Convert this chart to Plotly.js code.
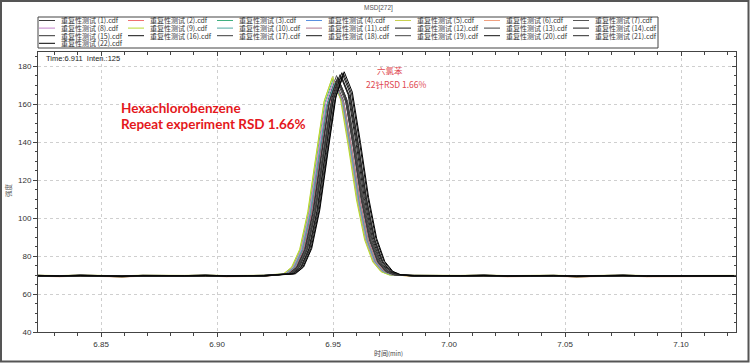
<!DOCTYPE html>
<html>
<head>
<meta charset="utf-8">
<script src="https://cdn.plot.ly/plotly-3.0.1.min.js"></script>
<style>html,body{margin:0;padding:0;background:#fff;}#chart{width:750px;height:363px;}</style>
</head>
<body>
<div id="chart"></div>
<script>
// ---------- DATA ----------
const seriesNames = ['重复性测试 (1).cdf','重复性测试 (2).cdf','重复性测试 (3).cdf','重复性测试 (4).cdf','重复性测试 (5).cdf','重复性测试 (6).cdf','重复性测试 (7).cdf',
  '重复性测试 (8).cdf','重复性测试 (9).cdf','重复性测试 (10).cdf','重复性测试 (11).cdf','重复性测试 (12).cdf','重复性测试 (13).cdf','重复性测试 (14).cdf',
  '重复性测试 (15).cdf','重复性测试 (16).cdf','重复性测试 (17).cdf','重复性测试 (18).cdf','重复性测试 (19).cdf','重复性测试 (20).cdf','重复性测试 (21).cdf',
  '重复性测试 (22).cdf'];
const seriesColors = ['#3a3a3a','#f07070','#40b080','#5a90e0','#c8d050','#f0a080','#555555',
  '#c080c8','#b8d830','#50a8a0','#b07890','#1a1a1a','#404040','#1a1a1a',
  '#333333','#111111','#3c3c3c','#1a1a1a','#444444','#111111','#2a2a2a','#000000'];

// retention time (min) of each run's apex
const apexTime = [6.9510,6.9505,6.9500,6.9508,6.9498,6.9512,6.9515,6.9503,6.9496,6.9507,6.9513,
  6.9520,6.9525,6.9530,6.9518,6.9538,6.9528,6.9535,6.9522,6.9545,6.9540,6.9548];
// time offsets of the sampled points across the peak, relative to the apex
const peakOffset = [-0.021,-0.0175,-0.014,-0.0105,-0.007,-0.0035,0,0.0035,0.007,0.0105,0.014,0.0175,0.021,0.0245];
// intensities across the peak for each run
const peakValues = [
  [70.6,74.0,83.3,102.8,131.7,159.9,172.0,161.8,136.5,109.0,88.3,76.8,71.8,70.1],
  [70.6,73.9,83.1,102.3,130.8,158.6,170.5,160.4,135.6,108.4,88.0,76.7,71.7,70.1],
  [70.6,74.1,83.5,103.1,132.3,160.8,173.0,162.7,137.2,109.3,88.4,76.8,71.8,70.1],
  [70.6,74.0,83.3,102.7,131.4,159.5,171.5,161.3,136.2,108.8,88.2,76.7,71.7,70.1],
  [70.7,74.1,83.7,103.6,133.2,162.1,174.5,164.0,138.2,109.9,88.7,77.0,71.8,70.1],
  [70.6,73.9,83.0,102.0,130.2,157.7,169.5,159.5,134.9,108.0,87.8,76.6,71.7,70.1],
  [70.7,74.1,83.7,103.8,133.5,162.6,175.0,164.5,138.5,110.1,88.8,77.0,71.8,70.1],
  [70.6,74.0,83.4,103.0,132.0,160.3,172.5,162.2,136.9,109.2,88.3,76.8,71.8,70.1],
  [70.6,74.1,83.5,103.3,132.6,161.2,173.5,163.1,137.5,109.5,88.5,76.9,71.8,70.1],
  [70.6,74.0,83.2,102.5,131.1,159.0,171.0,160.9,135.9,108.6,88.1,76.7,71.7,70.1],
  [70.6,73.9,83.1,102.2,130.5,158.1,170.0,160.0,135.2,108.2,87.9,76.6,71.7,70.1],
  [70.6,74.1,83.6,103.5,132.9,161.7,174.0,163.6,137.8,109.7,88.6,76.9,71.8,70.1],
  [70.6,74.0,83.3,102.8,131.7,159.9,172.0,161.8,136.5,109.0,88.3,76.8,71.8,70.1],
  [70.7,74.2,83.8,104.0,133.8,163.0,175.5,164.9,138.8,110.3,88.9,77.0,71.8,70.1],
  [70.6,74.1,83.5,103.1,132.3,160.8,173.0,162.7,137.2,109.3,88.4,76.8,71.8,70.1],
  [70.7,74.2,83.9,104.3,134.4,163.9,176.5,165.8,139.5,110.7,89.1,77.1,71.9,70.1],
  [70.6,74.0,83.3,102.7,131.4,159.5,171.5,161.3,136.2,108.8,88.2,76.7,71.7,70.1],
  [70.7,74.1,83.7,103.6,133.2,162.1,174.5,164.0,138.2,109.9,88.7,77.0,71.8,70.1],
  [70.6,73.9,83.1,102.3,130.8,158.6,170.5,160.4,135.6,108.4,88.0,76.7,71.7,70.1],
  [70.7,74.2,83.9,104.1,134.1,163.4,176.0,165.4,139.2,110.5,89.0,77.1,71.8,70.1],
  [70.6,74.1,83.5,103.3,132.6,161.2,173.5,163.1,137.5,109.5,88.5,76.9,71.8,70.1],
  [70.7,74.2,84.0,104.4,134.8,164.3,177.0,166.3,139.8,110.9,89.2,77.1,71.9,70.1]
];
// baseline before and after the peak
const preTime  = [6.8228,6.832,6.841,6.850,6.859,6.868,6.877,6.886,6.895,6.904,6.913,6.920];
const preValue = [69.6,69.4,69.7,69.5,69.3,69.6,69.4,69.5,69.7,69.4,69.5,69.6];
const postTime  = [6.985,6.995,7.005,7.015,7.025,7.035,7.045,7.055,7.065,7.075,7.085,7.095,7.105,7.115,7.1237];
const postValue = [69.6,69.4,69.5,69.7,69.4,69.5,69.6,69.3,69.5,69.7,69.4,69.5,69.6,69.4,69.5];
const baseShift = [0.1,-0.2,0.2,-0.1,0.3,-0.3,0.0,0.2,-0.2,0.1,-0.1,0.0,0.1,-0.1,0.2,-0.2,0.0,0.1,-0.1,0.2,-0.2,0.0];

const xRange = [6.8228, 7.1237];
const yRange = [40, 187.4];
const titleText = 'MSD[272]';
const cursorText = 'Time:6.911  Inten.:125';
const noteLines = ['Hexachlorobenzene','Repeat experiment RSD 1.66%'];
const labelLines = ['六氯苯','22针RSD 1.66%'];
const xTitle = '时间<span style="font-size:6px">(min)</span>';
const yTitle = '强度';

// ---------- BUILD ----------
const L = 38, T = 52, W = 698, H = 280;
const px = x => (x - L) / W;
const py = y => (T + H - y) / H;

const traces = seriesNames.map((name, i) => {
  const x = preTime.concat(peakOffset.map(o => +(apexTime[i] + o).toFixed(5)), postTime);
  const y = preValue.map(v => v + baseShift[i]).concat(peakValues[i], postValue.map(v => v + baseShift[i]));
  return {type: 'scatter', mode: 'lines', name, x, y,
    line: {color: seriesColors[i], width: 1}, hoverinfo: 'skip', showlegend: false};
});
traces.push({type: 'scatter', mode: 'lines', x: [], y: [], xaxis: 'x2', yaxis: 'y2', hoverinfo: 'skip', showlegend: false});

const shapes = [];
const annotations = [];
// legend box
shapes.push({type: 'rect', xref: 'paper', yref: 'paper', x0: px(38), x1: px(658), y0: py(17), y1: py(48),
  line: {color: '#444', width: 1}, fillcolor: 'rgba(0,0,0,0)', layer: 'above'});
const colStep = 89, rowStep = 7.6;
seriesNames.forEach((name, i) => {
  const c = i % 7, r = Math.floor(i / 7);
  const tx = 60 + c * colStep, ty = 20.5 + r * rowStep;
  shapes.push({type: 'line', xref: 'paper', yref: 'paper', x0: px(tx - 21), x1: px(tx - 5), y0: py(ty), y1: py(ty),
    line: {color: seriesColors[i], width: 1}});
  annotations.push({xref: 'paper', yref: 'paper', x: px(tx), y: py(ty), xanchor: 'left', yanchor: 'middle',
    text: name, showarrow: false, borderpad: 0, font: {family: 'Noto Sans CJK SC', size: 7, color: '#333'}});
});
// outer frame
shapes.push({type: 'rect', xref: 'paper', yref: 'paper', x0: px(1), x1: px(748.5), y0: py(1), y1: py(361.5),
  line: {color: '#555', width: 2}, fillcolor: 'rgba(0,0,0,0)'});

annotations.push({xref: 'paper', yref: 'paper', x: px(378), y: py(8), xanchor: 'center', yanchor: 'middle',
  text: titleText, showarrow: false, font: {family: 'Liberation Sans', size: 6.5, color: '#555'}});
annotations.push({xref: 'paper', yref: 'paper', x: px(44), y: py(58.5), xanchor: 'left', yanchor: 'middle',
  text: cursorText, showarrow: false, font: {family: 'Liberation Sans', size: 7.5, color: '#222'}});
annotations.push({xref: 'paper', yref: 'paper', x: px(119), y: py(108), xanchor: 'left', yanchor: 'middle',
  text: '<b>' + noteLines[0] + '</b>', showarrow: false, font: {family: 'Lato', size: 13.5, color: '#e4181c'}});
annotations.push({xref: 'paper', yref: 'paper', x: px(119), y: py(124), xanchor: 'left', yanchor: 'middle',
  text: '<b>' + noteLines[1] + '</b>', showarrow: false, font: {family: 'Lato', size: 13.5, color: '#e4181c'}});
annotations.push({xref: 'paper', yref: 'paper', x: px(390), y: py(69.5), xanchor: 'center', yanchor: 'middle',
  text: labelLines[0], showarrow: false, font: {family: 'Noto Sans CJK SC', size: 8.5, color: '#e04850'}});
annotations.push({xref: 'paper', yref: 'paper', x: px(396), y: py(84), xanchor: 'center', yanchor: 'middle',
  text: labelLines[1], showarrow: false, font: {family: 'Noto Sans CJK SC', size: 8.5, color: '#e04850'}});
annotations.push({xref: 'paper', yref: 'paper', x: px(388), y: py(353), xanchor: 'center', yanchor: 'middle',
  text: xTitle, showarrow: false, font: {family: 'Noto Sans CJK SC', size: 7, color: '#444'}});
annotations.push({xref: 'paper', yref: 'paper', x: px(8), y: py(190), xanchor: 'center', yanchor: 'middle',
  text: yTitle, textangle: -90, showarrow: false, font: {family: 'Noto Sans CJK SC', size: 6.5, color: '#555'}});

const tickFont = {family: 'Liberation Sans', size: 8, color: '#333'};
const layout = {
  width: 750, height: 363,
  margin: {l: L, r: 750 - L - W, t: T, b: 363 - T - H, pad: 0},
  paper_bgcolor: '#fff', plot_bgcolor: '#fff',
  showlegend: false,
  xaxis: {range: xRange, tick0: 6.85, dtick: 0.05, tickformat: '.2f', ticks: 'outside', ticklen: 4, tickcolor: '#444',
    showline: true, linecolor: '#444', linewidth: 1, showgrid: true, gridcolor: '#cfcfcf', griddash: 'dot', gridwidth: 1,
    zeroline: false, tickfont: tickFont,
    minor: {tick0: 6.85, dtick: 0.01, ticks: 'outside', ticklen: 2.5, tickcolor: '#444', showgrid: false}},
  yaxis: {range: yRange, tick0: 0, dtick: 20, ticks: 'outside', ticklen: 4, tickcolor: '#444',
    showline: true, linecolor: '#444', linewidth: 1, showgrid: true, gridcolor: '#cfcfcf', griddash: 'dot', gridwidth: 1,
    zeroline: false, tickfont: tickFont,
    minor: {tick0: 0, dtick: 5, ticks: 'outside', ticklen: 2.5, tickcolor: '#444', showgrid: false}},
  xaxis2: {overlaying: 'x', side: 'top', anchor: 'y2', range: xRange, tick0: 6.85, dtick: 0.05, ticks: 'inside', ticklen: 4,
    tickcolor: '#444', showticklabels: false, showline: true, linecolor: '#444', linewidth: 1, showgrid: false, zeroline: false,
    minor: {tick0: 6.85, dtick: 0.01, ticks: 'inside', ticklen: 2.5, tickcolor: '#444', showgrid: false}},
  yaxis2: {overlaying: 'y', side: 'right', anchor: 'x2', range: yRange, tick0: 0, dtick: 20, ticks: 'inside', ticklen: 4,
    tickcolor: '#444', showticklabels: false, showline: true, linecolor: '#444', linewidth: 1, showgrid: false, zeroline: false,
    minor: {tick0: 0, dtick: 5, ticks: 'inside', ticklen: 2.5, tickcolor: '#444', showgrid: false}},
  shapes, annotations
};
Plotly.newPlot('chart', traces, layout, {staticPlot: true, displayModeBar: false});
</script>
</body>
</html>
